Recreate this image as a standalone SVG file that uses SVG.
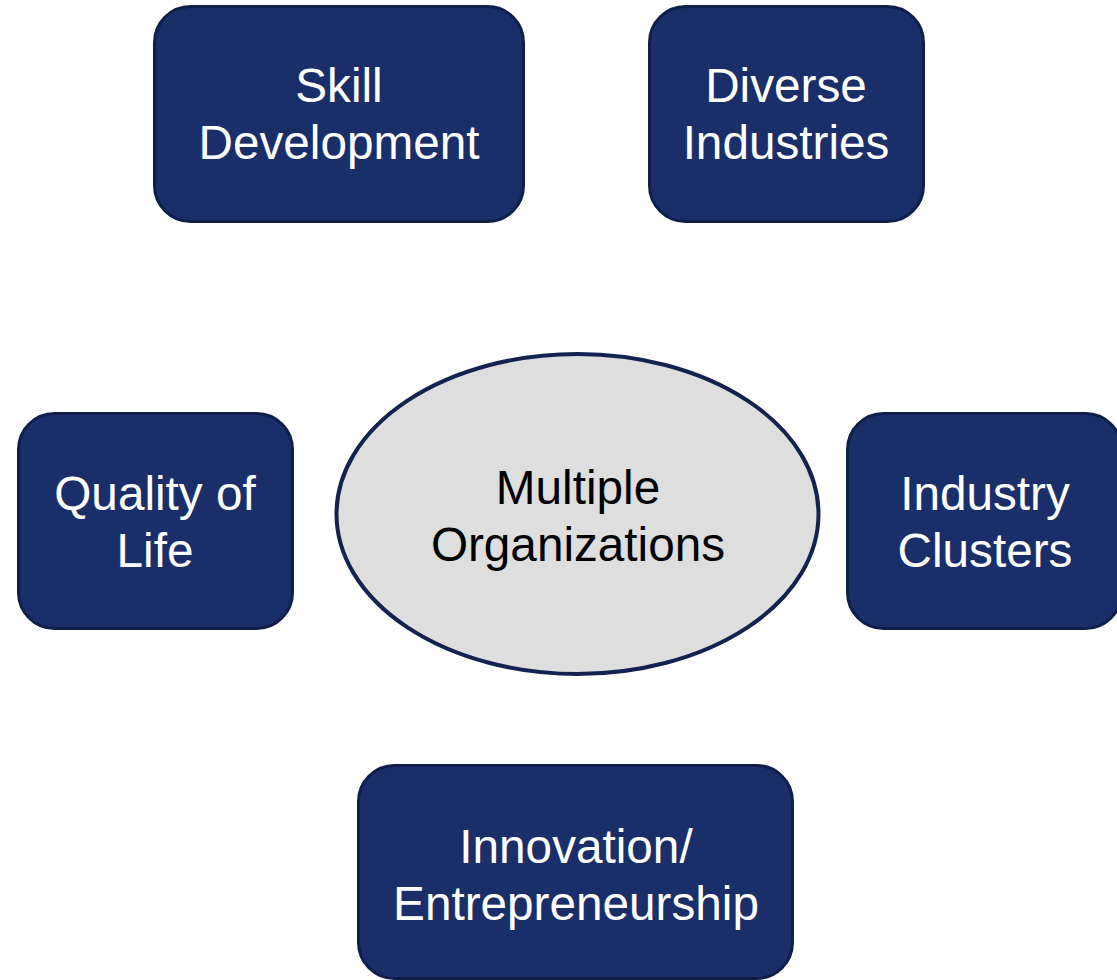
<svg xmlns="http://www.w3.org/2000/svg" width="1117" height="980" viewBox="0 0 1117 980">
<style>
.box{fill:#1A2F69;stroke:#0F1F4A;stroke-width:3}
.ell{fill:#DEDEDE;stroke:#13224F;stroke-width:4}
.t{font-family:"Liberation Sans",Arial,sans-serif;font-size:47.7px;text-anchor:middle;fill:#FFFFFF}
.tc{font-family:"Liberation Sans",Arial,sans-serif;font-size:47.7px;text-anchor:middle;fill:#000000}
</style>
<rect width="1117" height="980" fill="#FFFFFF"/>
<g id="connectors"></g>
<g id="skill">
<rect class="box" x="154.5" y="6.5" width="369" height="215" rx="36"/>
<text class="t" x="339" y="102">Skill</text>
<text class="t" x="339" y="159">Development</text>
</g>
<g id="diverse">
<rect class="box" x="649.5" y="6.5" width="274" height="215" rx="36"/>
<text class="t" x="786" y="102">Diverse</text>
<text class="t" x="786" y="159">Industries</text>
</g>
<g id="center">
<ellipse class="ell" cx="577.5" cy="514" rx="241" ry="160"/>
<text class="tc" x="578" y="504">Multiple</text>
<text class="tc" x="578" y="561">Organizations</text>
</g>
<g id="quality">
<rect class="box" x="18.5" y="413.5" width="274" height="215" rx="36"/>
<text class="t" x="155" y="510">Quality of</text>
<text class="t" x="155" y="567">Life</text>
</g>
<g id="clusters">
<rect class="box" x="847.5" y="413.5" width="274" height="215" rx="36"/>
<text class="t" x="985" y="510">Industry</text>
<text class="t" x="985" y="567">Clusters</text>
</g>
<g id="innovation">
<rect class="box" x="358.5" y="765.5" width="434" height="213" rx="36"/>
<text class="t" x="576" y="863">Innovation/</text>
<text class="t" x="576" y="920">Entrepreneurship</text>
</g>
</svg>
